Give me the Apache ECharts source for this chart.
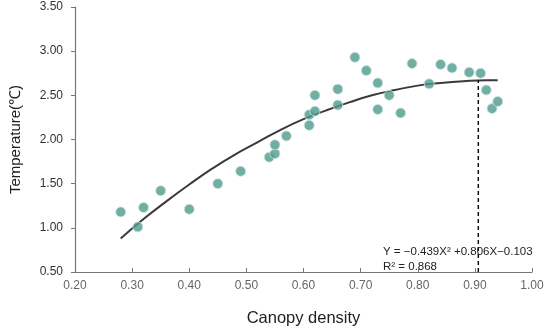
<!DOCTYPE html>
<html><head><meta charset="utf-8">
<script src="https://cdn.jsdelivr.net/npm/echarts@6/dist/echarts.min.js"></script>
<style>html,body{margin:0;padding:0;background:#fff}#c{width:550px;height:332px}</style>
</head><body><div id="c"></div>
<script>
// Observed points: canopy density (x) and temperature (y)
const canopyDensity = [0.28,0.31,0.32,0.35,0.40,0.45,0.49,0.54,0.55,0.55,0.57,0.61,0.61,0.62,0.62,0.66,0.66,0.69,0.71,0.73,0.73,0.75,0.77,0.79,0.82,0.84,0.86,0.89,0.91,0.92,0.93,0.94];
const temperature   = [1.18,1.01,1.23,1.42,1.21,1.50,1.64,1.80,1.84,1.94,2.04,2.16,2.28,2.32,2.50,2.39,2.57,2.93,2.78,2.64,2.34,2.50,2.30,2.86,2.63,2.85,2.81,2.76,2.75,2.56,2.35,2.43];
// Fitted trend curve
const curveX = [0.28,0.32,0.36,0.40,0.44,0.48,0.52,0.56,0.60,0.64,0.68,0.72,0.76,0.80,0.84,0.88,0.92,0.94];
const curveY = [0.88,1.10,1.30,1.49,1.67,1.83,1.97,2.11,2.23,2.33,2.42,2.50,2.56,2.61,2.64,2.66,2.67,2.67];
// Dashed marker line
const markX = [0.906,0.906];
const markY = [0.50,2.67];
const xTicks = [0.2,0.3,0.4,0.5,0.6,0.7,0.8,0.9,1.0];
const yTicks = [0.5,1.0,1.5,2.0,2.5,3.0,3.5];
const equationText = 'Y = \u22120.439X\u00B2 +0.806X\u22120.103';
const r2Text = 'R\u00B2 = 0.868';

const chart = echarts.init(document.getElementById('c'), null, {renderer:'canvas'});
const font = 'Liberation Sans, Arial, sans-serif';
chart.setOption({
  animation:false,
  backgroundColor:'#fff',
  grid:{left:71,right:18,top:7,bottom:55,containLabel:false},
  xAxis:{type:'value',min:xTicks[0],max:xTicks[xTicks.length-1],interval:0.1,
    name:'Canopy density',nameLocation:'middle',nameGap:38,
    nameTextStyle:{fontFamily:font,fontSize:16.5,color:'#222'},
    axisLine:{show:true,lineStyle:{color:'#777',width:1.2}},
    axisTick:{show:true,inside:true,length:4,lineStyle:{color:'#777'}},
    axisLabel:{fontFamily:font,fontSize:12,color:'#666',margin:8,formatter:v=>v.toFixed(2)},
    splitLine:{show:false}},
  yAxis:{type:'value',min:yTicks[0],max:yTicks[yTicks.length-1],interval:0.5,
    name:'Temperature(\u2103)',nameLocation:'middle',nameGap:52,
    nameTextStyle:{fontFamily:font,fontSize:15,color:'#222'},
    axisLine:{show:true,lineStyle:{color:'#777',width:1.2}},
    axisTick:{show:true,inside:false,length:4,lineStyle:{color:'#777'}},
    axisLabel:{fontFamily:font,fontSize:12,color:'#333',margin:12,formatter:v=>v.toFixed(2)},
    splitLine:{show:false}},
  series:[
    {type:'line',data:curveX.map((x,i)=>[x,curveY[i]]),smooth:true,showSymbol:false,
     lineStyle:{color:'#3a3a3a',width:2},z:2},
    {type:'line',data:markX.map((x,i)=>[x,markY[i]]),showSymbol:false,
     lineStyle:{color:'#111',width:1.5,type:[4,3]},z:3},
    {type:'scatter',data:canopyDensity.map((x,i)=>[x,temperature[i]]),symbolSize:10,
     itemStyle:{color:'#4D9A8C',borderColor:'#CFE6DF',borderWidth:1},z:4}
  ],
  graphic:[
    {type:'text',left:383,top:246,style:{text:equationText,fontFamily:font,fontSize:11.5,fill:'#222'}},
    {type:'text',left:383,top:261,style:{text:r2Text,fontFamily:font,fontSize:11.5,fill:'#222'}}
  ]
});
</script></body></html>
